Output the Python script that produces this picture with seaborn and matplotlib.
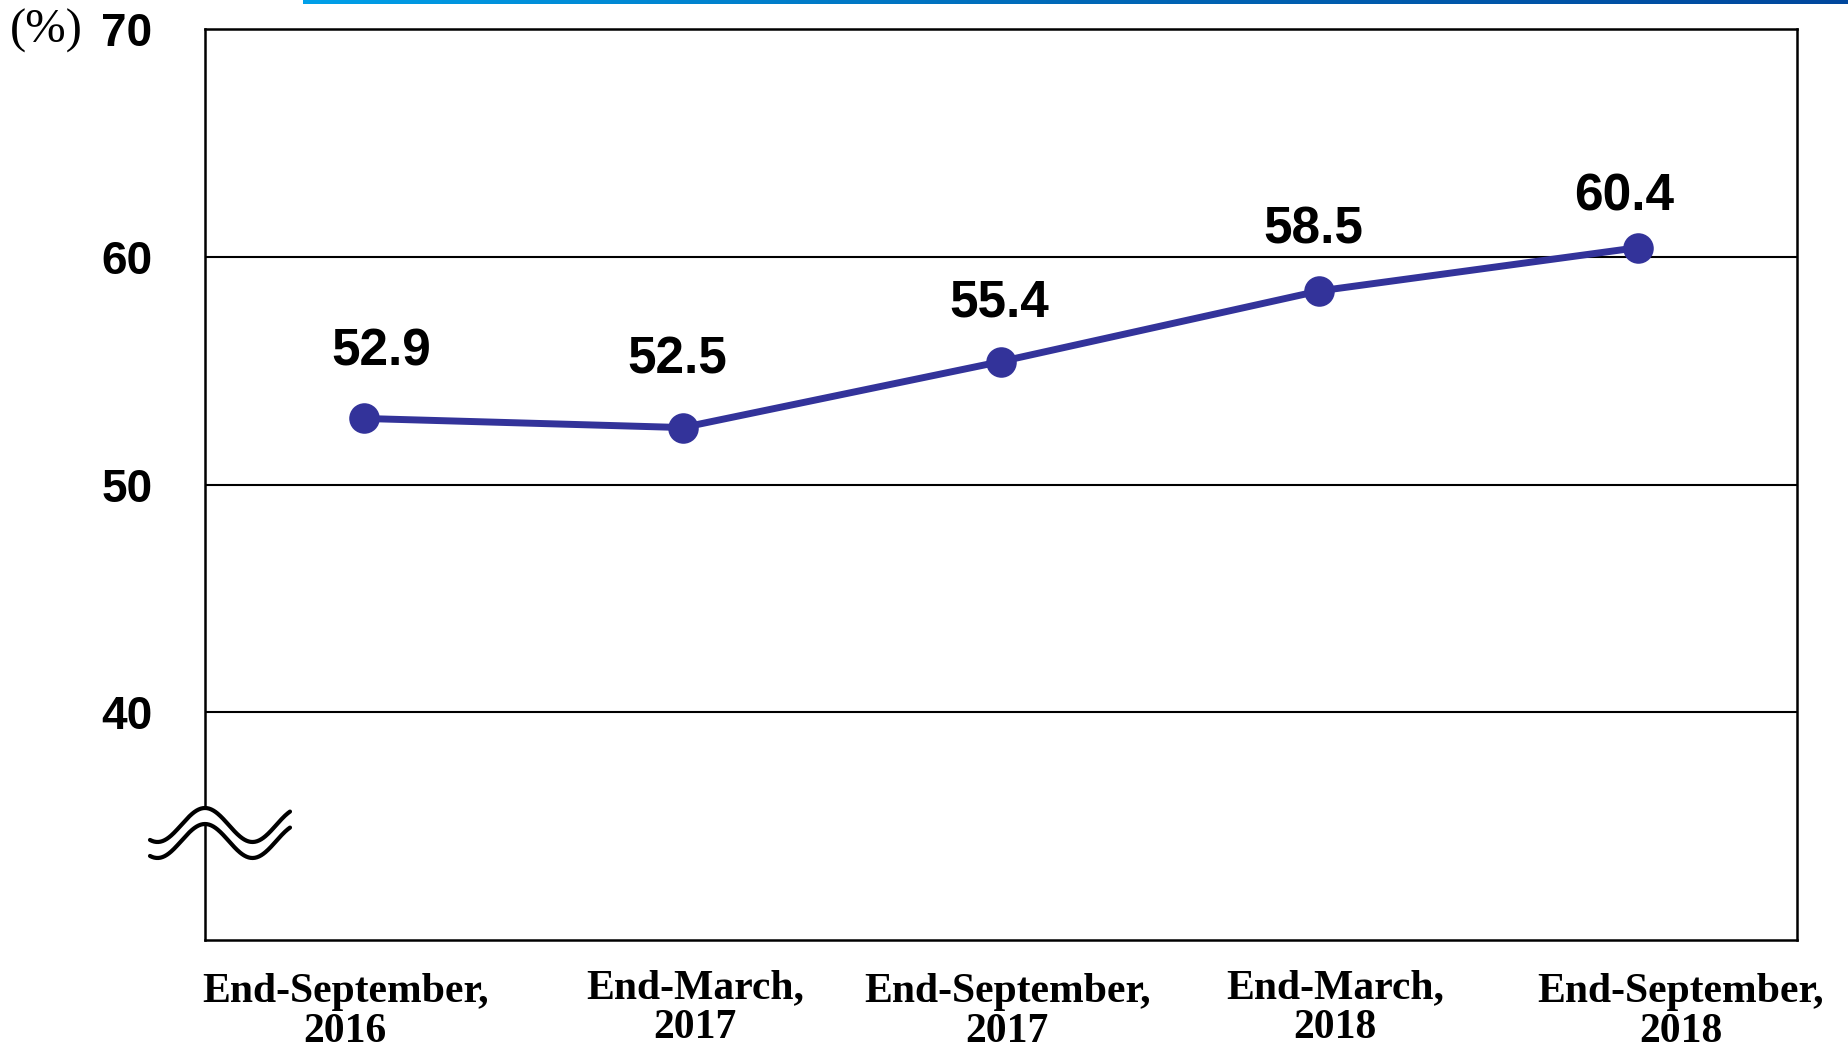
import numpy as np
import pandas as pd
import matplotlib
matplotlib.use('Agg')
import matplotlib.pyplot as plt
from matplotlib.colors import LinearSegmentedColormap
import matplotlib.transforms as mtransforms
import seaborn as sns

periods = ['End-September,\n2016', 'End-March,\n2017', 'End-September,\n2017',
           'End-March,\n2018', 'End-September,\n2018']
ratio = [52.9, 52.5, 55.4, 58.5, 60.4]
y_ticks = [40, 50, 60, 70]

data = pd.DataFrame({'pos': range(len(periods)), 'ratio': ratio})

sns.set_style('white')
plt.rcParams['font.family'] = ['Liberation Sans', 'DejaVu Sans']

W, H = 1849, 1051
fig = plt.figure(figsize=(W / 100, H / 100), dpi=100)
ax = fig.add_axes([205 / W, 1 - 940 / H, (1797 - 205) / W, (940 - 29) / H])

line_color = '#33339a'
sns.lineplot(data=data, x='pos', y='ratio', ax=ax, color=line_color, linewidth=5,
             marker='o', markersize=22, markeredgewidth=0, zorder=5)

ax.set_xlim(-0.5, len(periods) - 0.5)
ax.set_ylim(30, 70)
ax.set_yticks(y_ticks)
ax.set_yticklabels([str(t) for t in y_ticks], fontsize=33, fontweight='bold', color='black')
ax.tick_params(axis='y', length=0, pad=38)
ax.set_xticks([])
ax.set_xlabel('')
ax.set_ylabel('')
for t in y_ticks[:-1]:
    ax.axhline(t, color='black', linewidth=1.5, zorder=1)
for s in ax.spines.values():
    s.set_color('black')
    s.set_linewidth(1.8)

# value labels (offsets in pixels)
label_off = [(17, 66), (-5, 68), (-2, 59), (-6, 61), (-14, 51)]
for i, v in enumerate(ratio):
    ax.annotate(f'{v:.1f}', (i, v), xytext=label_off[i], textcoords='offset pixels',
                ha='center', va='center', fontsize=37, fontweight='bold', color='black')

# category labels under the axis
tick_dx = [-0.06, 0.04, 0.02, 0.05, 0.135]
tick_dy = [1012, 1008, 1012, 1008, 1012]
trans = mtransforms.blended_transform_factory(ax.transData, fig.transFigure)
for i, lab in enumerate(periods):
    ax.text(i + tick_dx[i], 1 - tick_dy[i] / H, lab, transform=trans, ha='center', va='center',
            fontsize=30, fontweight='bold', family='Liberation Serif', linespacing=1.08,
            color='black')

fig.text(10 / W, 1 - 31 / H, '(%)', ha='left', va='center', fontsize=35,
         family='Liberation Serif', color='black')

# axis break symbol
xs = np.linspace(150, 290, 200)
y_up = 825 - 17 * np.cos(2 * np.pi * (xs - 205) / 95)
y_lo = y_up + 16
fx = xs / W
ax.fill_between(fx, 1 - y_up / H, 1 - y_lo / H, transform=fig.transFigure,
                color='white', zorder=10, clip_on=False, linewidth=0)
ax.plot(fx, 1 - y_up / H, transform=fig.transFigure, color='black', lw=3,
        zorder=11, clip_on=False)
ax.plot(fx, 1 - y_lo / H, transform=fig.transFigure, color='black', lw=3,
        zorder=11, clip_on=False)

# blue strip at the top edge
bar = fig.add_axes([303 / W, 1 - 4 / H, 1 - 303 / W, 4 / H])
cmap = LinearSegmentedColormap.from_list('strip', ['#00a0e9', '#0068b7', '#00479d'])
bar.imshow(np.linspace(0, 1, 256).reshape(1, -1), aspect='auto', cmap=cmap)
bar.axis('off')

fig.savefig('out.png', dpi=100)
